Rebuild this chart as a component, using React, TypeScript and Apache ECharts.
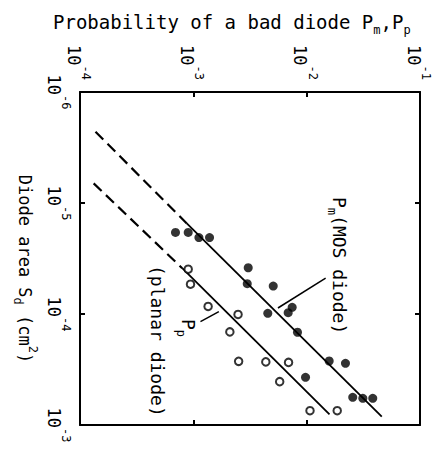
import React, { useEffect, useRef } from 'react';
import * as echarts from 'echarts';

// Axis ranges (probability on the top axis, diode area on the left axis)
const probRange = [1e-4, 1e-1];
const areaRange = [1e-6, 1e-3];
// Tick label values
const probTicks = [1e-4, 1e-3, 1e-2, 1e-1];
const areaTicks = [1e-6, 1e-5, 1e-4, 1e-3];

// [probability, diode area cm^2]
const mosPoints = [
  [6.96e-4, 1.84e-5], [9.01e-4, 1.84e-5], [1.12e-3, 2.05e-5], [1.39e-3, 2.05e-5],
  [3.05e-3, 3.83e-5], [2.99e-3, 5.33e-5], [5.07e-3, 5.6e-5], [4.54e-3, 9.86e-5],
  [6.87e-3, 9.73e-5], [7.45e-3, 8.7e-5], [8.3e-3, 1.46e-4], [1.58e-2, 2.65e-4],
  [2.2e-2, 2.78e-4], [9.77e-3, 3.72e-4], [2.55e-2, 5.63e-4], [3.13e-2, 5.75e-4],
  [3.83e-2, 5.75e-4],
];
const planarPoints = [
  [9.01e-4, 3.95e-5], [9.44e-4, 5.39e-5], [1.35e-3, 8.55e-5], [2.48e-3, 1.01e-4],
  [2.1e-3, 1.45e-4], [2.51e-3, 2.67e-4], [4.36e-3, 2.7e-4], [6.92e-3, 2.73e-4],
  [5.78e-3, 4.07e-4], [1.07e-2, 7.43e-4], [1.86e-2, 7.43e-4],
];
const mosFit = [[8.71e-4, 1.52e-5], [4.6e-2, 8.4e-4]];
const mosExtrap = [[1.37e-4, 2.28e-6], [8.71e-4, 1.52e-5]];
const planarFit = [[7.98e-4, 3.87e-5], [1.59e-2, 8.04e-4]];
const planarExtrap = [[1.32e-4, 6.65e-6], [7.98e-4, 3.87e-5]];
const mosLeader = [[5.58e-3, 8.83e-5], [1.47e-2, 4.74e-5]];
const planarLeader = [[1.156e-3, 1.17e-4], [1.68e-3, 9.53e-5]];

const FONT = 'DejaVu Sans Mono';
const ROT = -Math.PI / 2;

const gRich = (size: number) => ({
  a: { fontFamily: FONT, fontSize: size, fill: '#000', verticalAlign: 'bottom', padding: [0, 0, 5, 0] },
  s: { fontFamily: FONT, fontSize: 12, fill: '#000', verticalAlign: 'bottom' },
  p: { fontFamily: FONT, fontSize: 12, fill: '#000', verticalAlign: 'bottom', padding: [0, 0, 15, 0] },
});

const axisCommon = {
  type: 'log',
  logBase: 10,
  axisLine: { show: true, onZero: false, lineStyle: { color: '#000', width: 2 } },
  axisTick: { show: true, inside: true, length: 5, lineStyle: { color: '#000', width: 2 } },
  axisLabel: { show: false },
  splitLine: { show: false },
  minorTick: { show: false },
};

const plain = (text: string, x: number, y: number, size: number, align: string) => ({
  type: 'text',
  x,
  y,
  rotation: ROT,
  style: { text, fontFamily: FONT, fontSize: size, fill: '#000', align, verticalAlign: 'middle' },
});

export default function App() {
  const ref = useRef<HTMLDivElement>(null);
  useEffect(() => {
    if (!ref.current) return;
    const chart = echarts.init(ref.current, null, { renderer: 'svg' });
    const lineSeries = (data: number[][], width: number, type: any = 'solid') => ({
      type: 'line',
      data,
      showSymbol: false,
      symbol: 'none',
      silent: true,
      lineStyle: { color: '#000', width, type },
      z: 2,
    });
    chart.setOption({
      animation: false,
      backgroundColor: '#fff',
      grid: { left: 80, right: 14, top: 92, bottom: 31, containLabel: false },
      xAxis: [
        { ...axisCommon, position: 'top', min: probRange[0], max: probRange[1] },
        { ...axisCommon, position: 'bottom', min: probRange[0], max: probRange[1] },
      ],
      yAxis: [
        { ...axisCommon, position: 'left', inverse: true, min: areaRange[0], max: areaRange[1] },
        { ...axisCommon, position: 'right', inverse: true, min: areaRange[0], max: areaRange[1] },
      ],
      series: [
        lineSeries(mosExtrap, 2.2, [11, 6]),
        lineSeries(planarExtrap, 2.2, [11, 6]),
        lineSeries(mosFit, 1.8),
        lineSeries(planarFit, 1.8),
        lineSeries(mosLeader, 1.5),
        lineSeries(planarLeader, 1.5),
        {
          type: 'scatter',
          data: planarPoints,
          symbol: 'circle',
          symbolSize: 7.5,
          itemStyle: { color: '#fff', borderColor: '#000', borderWidth: 2 },
          z: 3,
        },
        {
          type: 'scatter',
          data: mosPoints,
          symbol: 'circle',
          symbolSize: 9,
          itemStyle: { color: '#000' },
          z: 3,
        },
      ],
    });

    // Tick labels placed through the axes' own scales: "10" plus a raised exponent
    const tickLabels: any[] = [];
    probTicks.forEach((v) => {
      const px = chart.convertToPixel({ xAxisIndex: 0 }, v) as number;
      const e = String(Math.round(Math.log10(v)));
      tickLabels.push(plain('10', px - 6.5, 45, 17, 'left'));
      tickLabels.push(plain(e, px + 6, 80, 12, 'right'));
    });
    areaTicks.forEach((v) => {
      const py = chart.convertToPixel({ yAxisIndex: 0 }, v) as number;
      const e = String(Math.round(Math.log10(v)));
      tickLabels.push(plain('10', 54, py + 3, 17, 'right'));
      tickLabels.push(plain(e, 66, py + 3, 12, 'left'));
    });

    chart.setOption({
      graphic: [
        ...tickLabels,
        {
          type: 'text',
          x: 53,
          y: 24,
          style: {
            text: '{a|Probability of a bad diode P}{s|m}{a|,P}{s|p}',
            align: 'left',
            verticalAlign: 'middle',
            rich: gRich(19),
          },
        },
        {
          type: 'text',
          x: 25,
          y: 269,
          rotation: ROT,
          style: {
            text: '{a|Diode area S}{s|d}{a| (cm}{p|2}{a|)}',
            align: 'center',
            verticalAlign: 'middle',
            rich: gRich(17),
          },
        },
        {
          type: 'text',
          x: 337,
          y: 197,
          rotation: ROT,
          style: {
            text: '{a|P}{s|m}{a|(MOS diode)}',
            align: 'left',
            verticalAlign: 'middle',
            rich: gRich(18),
          },
        },
        {
          type: 'text',
          x: 186,
          y: 319,
          rotation: ROT,
          style: {
            text: '{a|P}{s|p}',
            align: 'left',
            verticalAlign: 'middle',
            rich: gRich(18),
          },
        },
        {
          type: 'text',
          x: 155,
          y: 265,
          rotation: ROT,
          style: {
            text: '{a|(planar diode)}',
            align: 'left',
            verticalAlign: 'middle',
            rich: gRich(18),
          },
        },
      ],
    });
    return () => chart.dispose();
  }, []);
  return (
    <div
      ref={ref}
      style={{ position: 'fixed', left: 0, top: 0, width: 434, height: 456, background: '#fff' }}
    />
  );
}
